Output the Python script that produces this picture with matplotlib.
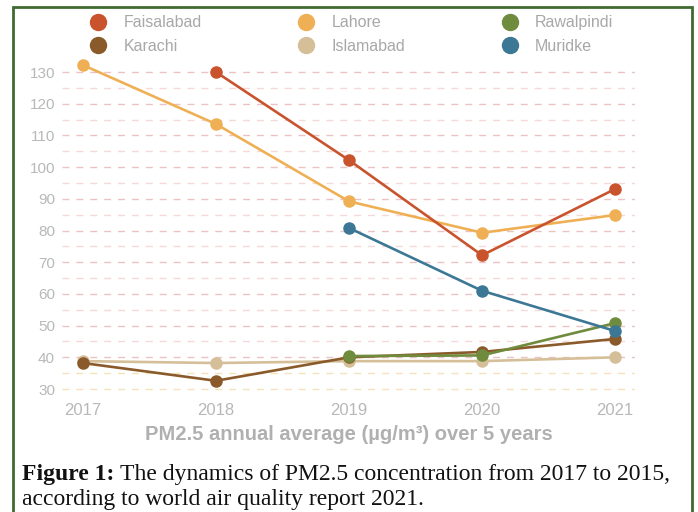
import matplotlib
matplotlib.use("Agg")
import matplotlib.pyplot as plt
from matplotlib.lines import Line2D
from matplotlib.patches import Rectangle
import numpy as np

plt.rcParams['font.family'] = ['Liberation Sans', 'DejaVu Sans']

years = [2017, 2018, 2019, 2020, 2021]
faisalabad = [None, 130, 102.2, 72.2, 93.1]
lahore = [132.2, 113.6, 89.2, 79.3, 84.9]
rawalpindi = [None, None, 40.4, 40.6, 50.8]
karachi = [38.2, 32.6, 40.0, 41.7, 45.8]
islamabad = [38.8, 38.2, 38.8, 38.8, 40.0]
muridke = [None, None, 80.8, 61.0, 48.3]

series = [
    ("Faisalabad", faisalabad, "#c9532c"),
    ("Lahore", lahore, "#efb055"),
    ("Rawalpindi", rawalpindi, "#6f8c3e"),
    ("Karachi", karachi, "#8a5a2a"),
    ("Islamabad", islamabad, "#d5bf98"),
    ("Muridke", muridke, "#3c7895"),
]
zorders = {"Islamabad": 3, "Karachi": 4, "Rawalpindi": 5, "Muridke": 6,
           "Lahore": 7, "Faisalabad": 8}

yticks = list(range(30, 131, 10))
grid_levels = list(range(30, 131, 5))

fig = plt.figure(figsize=(6.98, 5.12), dpi=100)
ax = fig.add_axes([0.0888, 0.234, 0.821, 0.650])

for g in grid_levels:
    if g <= 35:
        c = "#f4e2b8"
    elif g % 10 == 0:
        c = "#ecc3c3"
    else:
        c = "#f5d8d8"
    ax.axhline(g, color=c, lw=1.0, dashes=(5, 5), zorder=1)

for name, vals, col in series:
    x = [yr for yr, v in zip(years, vals) if v is not None]
    y = [v for v in vals if v is not None]
    ax.plot(x, y, color=col, lw=1.9, marker="o", ms=8, zorder=zorders[name])

ax.set_xlim(2016.842, 2021.15)
ax.set_ylim(29, 134)
ax.set_yticks(yticks)
ax.set_xticks(years)
for s in ax.spines.values():
    s.set_visible(False)
ax.tick_params(axis="both", length=0, labelcolor="#b8b8b8")
ax.tick_params(axis="x", pad=8, labelsize=12)
ax.tick_params(axis="y", pad=5, labelsize=11)
ax.set_xlabel("PM2.5 annual average (µg/m³) over 5 years", fontsize=14.5,
              fontweight="bold", color="#b0b0b0", labelpad=5)

# legend: column order Faisalabad/Karachi, Lahore/Islamabad, Rawalpindi/Muridke
order = ["Faisalabad", "Karachi", "Lahore", "Islamabad", "Rawalpindi", "Muridke"]
cmap = {n: c for n, _, c in series}
handles = [Line2D([], [], ls="none", marker="o", ms=11.5, color=cmap[n]) for n in order]
leg = fig.legend(handles, order, loc="lower left", ncol=3, mode="expand",
                 bbox_to_anchor=(0.12, 0.882, 0.768, 0.1), frameon=False,
                 fontsize=11.5, labelspacing=0.55, handletextpad=1.1,
                 handlelength=1.0, borderaxespad=0)
for t in leg.get_texts():
    t.set_color("#a8a8a8")

# green frame around the figure
fig.patches.append(Rectangle((0.0186, -0.02), 0.9728, 1.0063, transform=fig.transFigure,
                             fill=False, edgecolor="#3f6a31", lw=2, clip_on=False))

# caption
cap_font = dict(fontsize=17, family="Liberation Serif", color="#111111", va="baseline")
fig.canvas.draw()
t1 = fig.text(0.032, 0.062, "Figure 1:", fontweight="bold", **cap_font)
fig.canvas.draw()
bb = t1.get_window_extent()
x1 = fig.transFigure.inverted().transform((bb.x1, bb.y0))[0]
fig.text(x1 + 0.007, 0.062, "The dynamics of PM2.5 concentration from 2017 to 2015,", **cap_font)
fig.text(0.032, 0.014, "according to world air quality report 2021.", **cap_font)

fig.savefig("out.png", dpi=100)
